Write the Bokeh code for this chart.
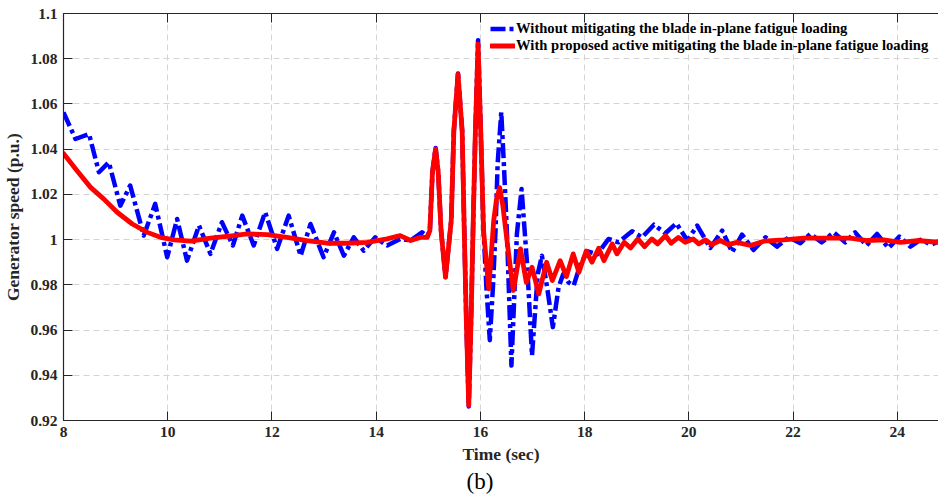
from bokeh.plotting import figure
from bokeh.models import (LinearAxis, FixedTicker, Legend, LegendItem, Title,
                          Range1d, ColumnDataSource)
from bokeh.embed import file_html
from bokeh.resources import INLINE

# ---------------- data ----------------
time_without = [8.00, 8.23, 8.49, 8.68, 8.87, 9.09, 9.28, 9.54, 9.76, 9.99,
                10.18, 10.37, 10.60, 10.82, 11.04, 11.25, 11.43, 11.65, 11.87, 12.10,
                12.32, 12.55, 12.74, 12.99, 13.19, 13.38, 13.57, 13.76, 13.98, 14.21,
                14.46, 14.66, 14.88, 14.98, 15.03, 15.08, 15.14, 15.19, 15.245, 15.33,
                15.44, 15.49, 15.57, 15.65, 15.69, 15.73, 15.776, 15.82, 15.86, 15.90,
                15.955, 16.01, 16.06, 16.115, 16.18, 16.24, 16.29, 16.33, 16.40, 16.45,
                16.51, 16.595, 16.70, 16.79, 16.90, 16.99, 17.10, 17.18, 17.28, 17.39,
                17.50, 17.59, 17.69, 17.79, 17.92, 18.06, 18.24, 18.46, 18.65, 18.91,
                19.10, 19.33, 19.55, 19.76, 19.97, 20.16, 20.41, 20.64, 20.83, 21.02,
                21.24, 21.47, 21.69, 21.92, 22.14, 22.33, 22.55, 22.78, 23.00, 23.19,
                23.41, 23.61, 23.83, 24.04, 24.25, 24.44, 24.66, 24.79]
speed_without = [1.0563, 1.0445, 1.0467, 1.0298, 1.0342, 1.0150, 1.0239, 1.0018, 1.0158, 0.9922,
                 1.0091, 0.9907, 1.0062, 0.9937, 1.0077, 0.9974, 1.0106, 0.9974, 1.0121, 0.9959,
                 1.0106, 0.9929, 1.0069, 0.9922, 1.0032, 0.9929, 1.0010, 0.9951, 1.0010, 0.9974,
                 1.0003, 0.9996, 1.0032, 1.0015, 1.0040, 1.0300, 1.0405, 1.0300, 1.0040, 0.9834,
                 1.0084, 1.0480, 1.0735, 1.0480, 1.0040, 0.9640, 0.9262, 0.9640, 1.0060, 1.0450,
                 1.0882, 1.0450, 1.0040, 0.9789, 0.9555, 0.9789, 1.0040, 1.0334, 1.0563, 1.0334,
                 1.0025, 0.9443, 1.0025, 1.0224, 0.9878, 0.9487, 0.9848, 0.9929, 0.9789, 0.9613,
                 0.9789, 0.9848, 0.9811, 0.9797, 0.9892, 0.9948, 0.9935, 1.0003, 0.9988, 1.0037,
                 1.0010, 1.0066, 1.0028, 1.0072, 0.9996, 1.0062, 0.9963, 1.0040, 0.9944, 1.0022,
                 0.9954, 1.0010, 0.9969, 1.0010, 0.9984, 1.0025, 0.9988, 1.0032, 0.9988, 1.0032,
                 0.9974, 1.0025, 0.9963, 1.0013, 0.9969, 0.9999, 0.9978, 0.9993]

time_with = [8.00, 8.26, 8.52, 8.77, 9.03, 9.32, 9.61, 9.86, 10.12, 10.44,
             10.82, 11.27, 11.52, 11.91, 12.29, 12.67, 13.06, 13.44, 13.83, 14.21,
             14.46, 14.66, 14.85, 14.98, 15.03, 15.08, 15.14, 15.19, 15.245, 15.33,
             15.44, 15.49, 15.57, 15.65, 15.69, 15.73, 15.776, 15.82, 15.86, 15.90,
             15.955, 16.01, 16.06, 16.16, 16.255, 16.31, 16.37, 16.43, 16.51, 16.63,
             16.77, 16.88, 16.99, 17.12, 17.27, 17.38, 17.53, 17.65, 17.78, 17.89,
             18.03, 18.14, 18.27, 18.37, 18.53, 18.62, 18.76, 18.88, 19.02, 19.15,
             19.29, 19.40, 19.55, 19.66, 19.80, 19.93, 20.08, 20.19, 20.32, 20.44,
             20.60, 20.76, 20.92, 21.18, 21.44, 21.82, 22.20, 23.10, 23.42, 23.74,
             24.06, 24.38, 24.79]
speed_with = [1.0381, 1.0305, 1.0231, 1.0180, 1.0121, 1.0069, 1.0032, 1.0010, 0.9999, 0.9993,
              1.0007, 1.0018, 1.0025, 1.0022, 1.0010, 0.9996, 0.9984, 0.9984, 0.9988, 1.0003,
              1.0018, 0.9996, 1.0010, 1.0010, 1.0040, 1.0300, 1.0401, 1.0300, 1.0040, 0.9834,
              1.0084, 1.0480, 1.0732, 1.0480, 1.0040, 0.9640, 0.9267, 0.9640, 1.0060, 1.0450,
              1.0865, 1.0450, 1.0040, 0.9782, 1.0084, 1.0180, 1.0230, 1.0150, 0.9996, 0.9775,
              0.9959, 0.9811, 0.9878, 0.9760, 0.9900, 0.9819, 0.9907, 0.9837, 0.9937, 0.9856,
              0.9950, 0.9900, 0.9962, 0.9907, 0.9981, 0.9937, 0.9988, 0.9963, 1.0003, 0.9969,
              1.0003, 0.9981, 1.0018, 0.9984, 1.0010, 0.9988, 1.0003, 0.9981, 0.9999, 0.9978,
              0.9996, 0.9978, 0.9988, 0.9974, 0.9993, 0.9999, 1.0007, 1.0007, 0.9996, 0.9999,
              0.9988, 0.9996, 0.9988]

x_ticks = [8, 10, 12, 14, 16, 18, 20, 22, 24]
y_ticks = [0.92, 0.94, 0.96, 0.98, 1.0, 1.02, 1.04, 1.06, 1.08, 1.1]
y_tick_labels = ["0.92", "0.94", "0.96", "0.98", "1", "1.02", "1.04", "1.06", "1.08", "1.1"]

label_without = "Without mitigating the blade in-plane fatigue loading"
label_with = "With proposed active mitigating the blade in-plane fatigue loading"

# ---------------- figure ----------------
FONT = "Liberation Serif"
AX = "#262626"

p = figure(width=938, height=499, x_range=Range1d(8, 24.79), y_range=Range1d(0.92, 1.1),
           output_backend="svg", toolbar_location=None,
           min_border_left=63, min_border_right=0, min_border_top=13, min_border_bottom=79)
p.outline_line_color = None
p.background_fill_color = "white"
p.border_fill_color = "white"

# axes
xa = p.xaxis[0]
xa.ticker = FixedTicker(ticks=x_ticks)
ya = p.yaxis[0]
ya.ticker = FixedTicker(ticks=y_ticks)
ya.major_label_overrides = {v: s for v, s in zip(y_ticks, y_tick_labels)}

for ax in (xa, ya):
    ax.major_tick_in = 9
    ax.major_tick_out = 0
    ax.minor_tick_in = 0
    ax.minor_tick_out = 0
    ax.axis_line_color = AX
    ax.axis_line_width = 1.2
    ax.major_tick_line_color = AX
    ax.major_label_text_font = FONT
    ax.major_label_text_font_style = "bold"
    ax.major_label_text_font_size = "15.5px"
    ax.major_label_text_color = AX
    ax.major_label_standoff = 6
    ax.axis_label_text_font = FONT
    ax.axis_label_text_font_style = "bold"
    ax.axis_label_text_color = AX

xa.axis_label = "Time (sec)"
xa.axis_label_text_font_size = "17.5px"
xa.axis_label_standoff = 4
ya.axis_label = "Generator speed (p.u.)"
ya.axis_label_text_font_size = "17.5px"
ya.axis_label_standoff = 4

top = LinearAxis(ticker=FixedTicker(ticks=x_ticks), major_tick_in=9, major_tick_out=0,
                 minor_tick_in=0, minor_tick_out=0,
                 major_label_overrides={t: "" for t in x_ticks},
                 major_label_standoff=0, axis_line_color=AX, axis_line_width=1.2,
                 major_tick_line_color=AX)
p.add_layout(top, "above")

# grid
for g in (p.xgrid[0], p.ygrid[0]):
    g.grid_line_color = "#d4d4d4"
    g.grid_line_dash = "6 4"
    g.grid_line_width = 1
p.xgrid[0].ticker = FixedTicker(ticks=x_ticks)
p.ygrid[0].ticker = FixedTicker(ticks=y_ticks)

# lines
src_without = ColumnDataSource(dict(t=time_without, w=speed_without))
src_with = ColumnDataSource(dict(t=time_with, w=speed_with))
r_without = p.line("t", "w", source=src_without, line_color="#0000ff", line_width=4.5,
                   line_dash="15 4 4 4", line_join="round")
r_with = p.line("t", "w", source=src_with, line_color="#ff0000", line_width=4.8,
                line_join="round", line_cap="round")

legend = Legend(items=[LegendItem(label=label_without, renderers=[r_without]),
                       LegendItem(label=label_with, renderers=[r_with])],
                location=(427, 366), orientation="vertical",
                glyph_width=25, glyph_height=17, label_height=17, label_standoff=1,
                spacing=0, padding=0, margin=0,
                border_line_color=None, background_fill_alpha=0,
                label_text_font=FONT, label_text_font_style="bold",
                label_text_font_size="14.6px", label_text_color="#000000")
p.add_layout(legend)

cap = Title(text="(b)", align="left", offset=403, text_font=FONT,
            text_font_size="23px", text_font_style="normal", text_color="#000000",
            standoff=0)
p.add_layout(cap, "below")

open("out.html", "w").write(file_html(p, INLINE))
